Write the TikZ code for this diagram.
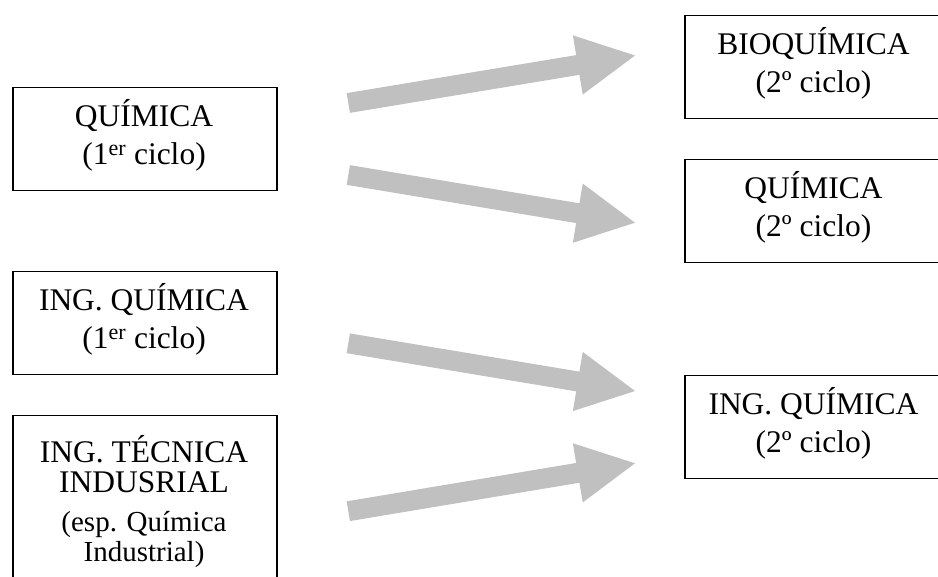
\documentclass[tikz,border=0pt]{standalone}
\usepackage{fontspec}
\setmainfont{Liberation Serif}
\usetikzlibrary{calc}
\definecolor{arrowgray}{RGB}{192,192,192}
\newcommand\bigtxt{\fontsize{31.5}{37.5}\selectfont}
\newcommand\smalltxt{\fontsize{29}{30}\selectfont}
\newcommand\garrow[2]{%
  \coordinate (#2-b) at ($(#2)!58pt!(#1)$);
  \fill[arrowgray] ($(#1)!10pt!90:(#2)$) -- ($(#2-b)!10pt!90:(#2)$) -- ($(#2-b)!30pt!90:(#2)$) -- (#2) -- ($(#2-b)!30pt!-90:(#2)$) -- ($(#2-b)!10pt!-90:(#2)$) -- ($(#1)!10pt!-90:(#2)$) -- cycle;}
\tikzset{
  boxsty/.style={draw=black, line width=1.5pt, inner sep=0pt, anchor=north west, minimum height=103pt},
  leftbox/.style={boxsty, minimum width=264pt},
  rightbox/.style={boxsty, minimum width=259pt},
  big/.style={anchor=base, inner sep=0pt, font=\bigtxt},
  small/.style={anchor=base, inner sep=0pt, font=\smalltxt}
}
\begin{document}
\begin{tikzpicture}[x=1pt, y=-1pt]
\useasboundingbox (0,0) rectangle (938,577);
\clip (0,0) rectangle (938,577);
% left boxes
\node[leftbox] (chem1) at (12,87) {};
\node[big] (chem1a) at (144,127) {QUÍMICA};
\node[big] (chem1b) at (144,164.5) {(1\textsuperscript{er} ciclo)};
\node[leftbox] (ingq1) at (12,271) {};
\node[big] (ingq1a) at (144,311) {ING. QUÍMICA};
\node[big] (ingq1b) at (144,348.5) {(1\textsuperscript{er} ciclo)};
\node[leftbox, minimum height=180pt] (ingt) at (12,415) {};
\node[big] (ingta) at (144,463) {ING. TÉCNICA};
\node[big] (ingtb) at (144,493) {INDUSRIAL};
\node[small] (ingtc) at (144,531.5) {(esp. Química};
\node[small] (ingtd) at (144,561.5) {Industrial)};
% right boxes
\node[rightbox] (bioq2) at (684,15) {};
\node[big] (bioq2a) at (813.5,55) {BIOQUÍMICA};
\node[big] (bioq2b) at (813.5,92.5) {(2º ciclo)};
\node[rightbox] (chem2) at (684,159) {};
\node[big] (chem2a) at (813.5,199) {QUÍMICA};
\node[big] (chem2b) at (813.5,236.5) {(2º ciclo)};
\node[rightbox] (ingq2) at (684,375) {};
\node[big] (ingq2a) at (813.5,415) {ING. QUÍMICA};
\node[big] (ingq2b) at (813.5,452.5) {(2º ciclo)};
% arrows
\coordinate (a1s) at (348.3,103);   \coordinate (a1e) at (635,55.5);
\coordinate (a2s) at (348.3,175);   \coordinate (a2e) at (635,222.7);
\coordinate (a3s) at (348.3,343.3); \coordinate (a3e) at (635,391);
\coordinate (a4s) at (348.3,511.2); \coordinate (a4e) at (635,463.3);
\garrow{a1s}{a1e}
\garrow{a2s}{a2e}
\garrow{a3s}{a3e}
\garrow{a4s}{a4e}
\end{tikzpicture}
\end{document}
